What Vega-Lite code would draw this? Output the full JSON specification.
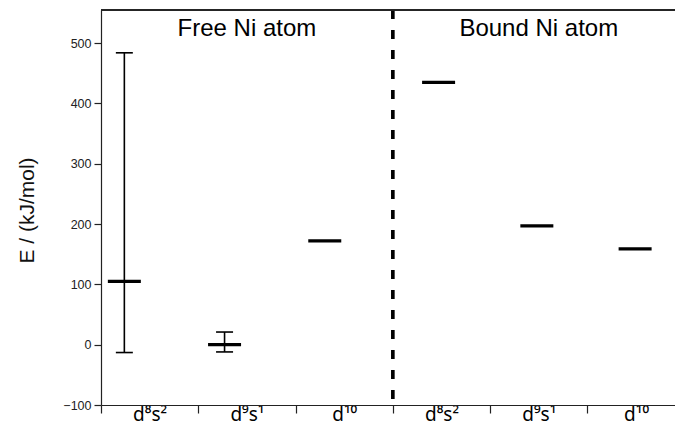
{
  "$schema": "https://vega.github.io/schema/vega-lite/v6.json",
  "autosize": {"type": "none"},
  "padding": {"left": 101, "top": 10, "right": 0, "bottom": 30},
  "width": 574,
  "height": 395,
  "config": {"view": {"stroke": null}, "font": "Liberation Sans"},
  "datasets": {
    "levels": [
      {"group": "Free Ni atom", "config": "d8s2", "pos": 0.24, "E": 105, "lo": -13, "hi": 484},
      {"group": "Free Ni atom", "config": "d9s1", "pos": 1.27, "E": 0, "lo": -12, "hi": 21},
      {"group": "Free Ni atom", "config": "d10", "pos": 2.3, "E": 172},
      {"group": "Bound Ni atom", "config": "d8s2", "pos": 3.47, "E": 435},
      {"group": "Bound Ni atom", "config": "d9s1", "pos": 4.48, "E": 197},
      {"group": "Bound Ni atom", "config": "d10", "pos": 5.49, "E": 159}
    ],
    "groups": [
      {"group": "Free Ni atom", "center": 1.5},
      {"group": "Bound Ni atom", "center": 4.5}
    ]
  },
  "data": {"name": "levels"},
  "layer": [
    {
      "mark": {"type": "rule", "color": "#000", "strokeWidth": 1.6},
      "transform": [{"filter": "isValid(datum.hi)"}],
      "encoding": {
        "x": {"field": "pos", "type": "quantitative",
          "scale": {"domain": [0, 5.9], "nice": false, "zero": false},
          "axis": {
            "title": null, "grid": false,
            "values": [0, 0.5, 1, 1.5, 2, 2.5, 3, 3.5, 4, 4.5, 5, 5.5],
            "tickSize": 8, "tickColor": "#222", "tickWidth": 1.2,
            "tickOpacity": {"condition": {"test": "datum.value % 1 != 0", "value": 0}, "value": 1},
            "domainColor": "#222", "domainWidth": 1.2,
            "labelExpr": "datum.value % 1 == 0 ? '' : ['d⁸s²','d⁹s¹','d¹⁰'][floor(datum.value) % 3]",
            "labelFont": "Noto Sans",
            "labelFontSize": 19, "labelColor": "#000", "labelPadding": -8,
            "labelOverlap": false, "labelFlush": false, "labelBound": false
          }
        },
        "y": {"field": "lo", "type": "quantitative",
          "scale": {"domain": [-100, 555], "nice": false, "zero": false},
          "axis": {
            "title": "E / (kJ/mol)", "grid": false,
            "values": [-100, 0, 100, 200, 300, 400, 500],
            "tickSize": 7, "tickColor": "#222", "tickWidth": 1.2,
            "domainColor": "#222", "domainWidth": 1.2,
            "labelFontSize": 12.5, "labelColor": "#222", "labelPadding": 3,
            "titleFontSize": 21, "titleFontWeight": "normal", "titleColor": "#111",
            "titleX": -74, "titleY": 200, "titleBaseline": "middle", "titleAlign": "center"
          }
        },
        "y2": {"field": "hi"}
      }
    },
    {
      "mark": {"type": "tick", "orient": "horizontal", "color": "#000", "opacity": 1, "size": 17, "thickness": 1.6},
      "transform": [{"filter": "isValid(datum.hi)"}],
      "encoding": {"x": {"field": "pos", "type": "quantitative"}, "y": {"field": "lo", "type": "quantitative"}}
    },
    {
      "mark": {"type": "tick", "orient": "horizontal", "color": "#000", "opacity": 1, "size": 17, "thickness": 1.6},
      "transform": [{"filter": "isValid(datum.hi)"}],
      "encoding": {"x": {"field": "pos", "type": "quantitative"}, "y": {"field": "hi", "type": "quantitative"}}
    },
    {
      "mark": {"type": "tick", "orient": "horizontal", "color": "#000", "opacity": 1, "size": 33, "thickness": 3.2},
      "encoding": {"x": {"field": "pos", "type": "quantitative"}, "y": {"field": "E", "type": "quantitative"}}
    },
    {
      "mark": {"type": "rule", "color": "#000", "strokeWidth": 2.6, "strokeDash": [9, 11]},
      "encoding": {"x": {"datum": 3}, "y": {"datum": 555}, "y2": {"datum": -100}}
    },
    {
      "mark": {"type": "rule", "color": "#222", "strokeWidth": 1.2},
      "encoding": {"y": {"datum": 555}}
    },
    {
      "data": {"name": "groups"},
      "mark": {"type": "text", "fontSize": 24, "color": "#000", "align": "center", "baseline": "alphabetic"},
      "encoding": {
        "x": {"field": "center", "type": "quantitative"},
        "y": {"datum": 512},
        "text": {"field": "group"}
      }
    }
  ]
}
